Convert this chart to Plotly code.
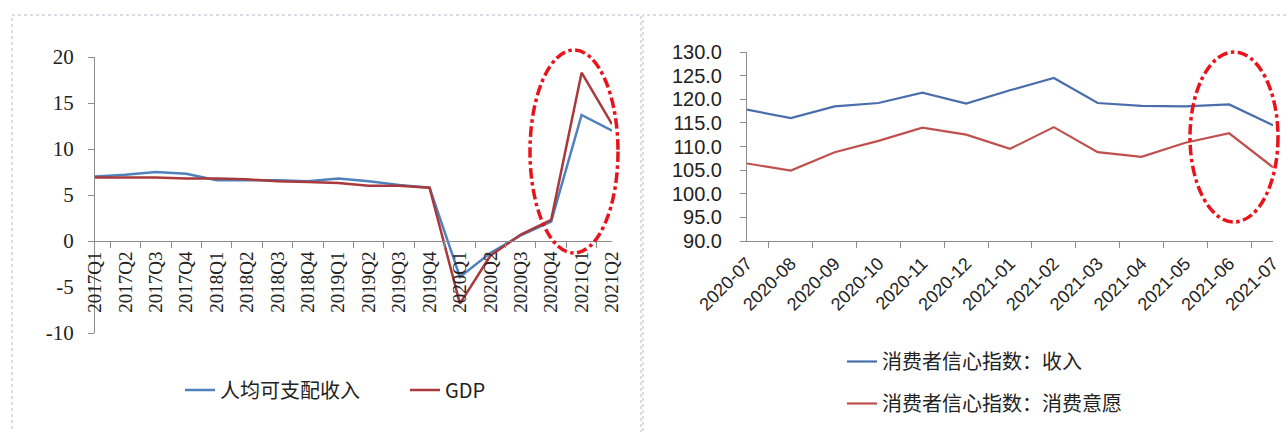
import plotly.graph_objects as go

quarters = ["2017Q1", "2017Q2", "2017Q3", "2017Q4", "2018Q1", "2018Q2", "2018Q3", "2018Q4",
            "2019Q1", "2019Q2", "2019Q3", "2019Q4", "2020Q1", "2020Q2", "2020Q3", "2020Q4",
            "2021Q1", "2021Q2"]
income_growth = [7.0, 7.2, 7.5, 7.3, 6.6, 6.6, 6.6, 6.5, 6.8, 6.5, 6.1, 5.8, -3.9, -1.3, 0.6, 2.1, 13.7, 12.0]
gdp_growth = [6.9, 6.9, 6.9, 6.8, 6.8, 6.7, 6.5, 6.4, 6.3, 6.0, 6.0, 5.8, -6.8, -1.6, 0.7, 2.3, 18.3, 12.7]
left_ticks = [-10, -5, 0, 5, 10, 15, 20]
left_tick_labels = ["-10", "-5", "0", "5", "10", "15", "20"]

months = ["2020-07", "2020-08", "2020-09", "2020-10", "2020-11", "2020-12", "2021-01",
          "2021-02", "2021-03", "2021-04", "2021-05", "2021-06", "2021-07"]
conf_income = [117.8, 116.0, 118.5, 119.2, 121.4, 119.1, 121.9, 124.5, 119.2, 118.6, 118.5, 118.9, 114.5]
conf_spend = [106.4, 104.9, 108.8, 111.2, 114.0, 112.5, 109.5, 114.1, 108.8, 107.8, 110.8, 112.8, 105.6]

W, H = 1288, 432
def px(x):
    return x / W
def py(y):
    return (H - y) / H

serif = "Liberation Serif, Times New Roman, serif"
sans = "Liberation Sans Narrow, Liberation Sans, Arial, sans-serif"
cjk = "Noto Sans CJK SC, Liberation Serif, serif"

fig = go.Figure()
fig.add_trace(go.Scatter(x=quarters, y=income_growth, mode="lines", name="人均可支配收入",
                         line=dict(color="#4f81bd", width=2.5), xaxis="x", yaxis="y", legend="legend"))
fig.add_trace(go.Scatter(x=quarters, y=gdp_growth, mode="lines", name="GDP",
                         line=dict(color="#a8393c", width=2.5), xaxis="x", yaxis="y", legend="legend"))
fig.add_trace(go.Scatter(x=months, y=conf_income, mode="lines", name="消费者信心指数：收入",
                         line=dict(color="#4a6eab", width=2.2), xaxis="x2", yaxis="y2",
                         legend="legend2", legendgroup="a"))
fig.add_trace(go.Scatter(x=months, y=conf_spend, mode="lines", name="消费者信心指数：消费意愿",
                         line=dict(color="#c0504d", width=2.2), xaxis="x2", yaxis="y2",
                         legend="legend2", legendgroup="b"))

axcol = "#8c8c8c"
fig.update_layout(
    width=W, height=H,
    margin=dict(l=0, r=0, t=0, b=0, autoexpand=False),
    paper_bgcolor="white", plot_bgcolor="white",
    xaxis=dict(domain=[px(95), px(612)], anchor="free", position=py(241), type="category",
               showline=True, linecolor=axcol, linewidth=1, ticks="outside", tickson="boundaries",
               ticklen=6, tickcolor=axcol, tickangle=-90, showgrid=False, zeroline=False,
               automargin=False, ticklabelstandoff=2,
               tickfont=dict(family=serif, size=19, color="#222")),
    yaxis=dict(domain=[py(333), py(57)], range=[-10, 20], tickvals=left_ticks, ticktext=left_tick_labels,
               showline=True, linecolor=axcol,
               ticks="outside", ticklen=6, tickcolor=axcol, showgrid=False, zeroline=False,
               automargin=False, ticklabelstandoff=10,
               tickfont=dict(family=serif, size=21, color="#222")),
    xaxis2=dict(domain=[px(747), px(1273)], anchor="y2", type="category",
                showline=True, linecolor=axcol, linewidth=1, ticks="outside", tickson="boundaries",
                ticklen=6, tickcolor=axcol, tickangle=-45, showgrid=False, zeroline=False,
                automargin=False, ticklabelstandoff=4,
                tickfont=dict(family=sans, size=18, color="#222")),
    yaxis2=dict(domain=[py(241), py(52)], range=[90, 130], dtick=5, tickformat=".1f", showline=True,
                linecolor=axcol, ticks="outside", ticklen=6, tickcolor=axcol, showgrid=False,
                zeroline=False, anchor="x2", automargin=False, ticklabelstandoff=14,
                tickfont=dict(family=sans, size=20, color="#222")),
    legend=dict(orientation="h", x=px(180), y=py(390), xanchor="left", yanchor="middle",
                entrywidth=180, entrywidthmode="pixels", bgcolor="rgba(0,0,0,0)",
                font=dict(family=cjk, size=20, color="#222")),
    legend2=dict(orientation="v", x=px(842), y=py(342), xanchor="left", yanchor="top",
                 traceorder="grouped", tracegroupgap=13, bgcolor="rgba(0,0,0,0)",
                 font=dict(family=cjk, size=20, color="#222")),
    showlegend=True,
)

border = dict(color="#b4bccb", width=1, dash="dot")
fig.add_shape(type="rect", xref="paper", yref="paper", x0=px(12), x1=px(641), y0=py(440), y1=py(15),
              line=border, layer="below")
fig.add_shape(type="rect", xref="paper", yref="paper", x0=px(643), x1=px(1295), y0=py(440), y1=py(15),
              line=border, layer="below")

ell = dict(color="#e8141c", width=3.5, dash="dashdot")
fig.add_shape(type="circle", xref="paper", yref="paper", x0=px(530), x1=px(618), y0=py(253), y1=py(50),
              line=ell)
fig.add_shape(type="circle", xref="paper", yref="paper", x0=px(1190), x1=px(1278), y0=py(222), y1=py(52),
              line=ell)

fig.write_html("out.html", config={"displayModeBar": False},
               post_script="document.body.style.margin='0';document.body.style.overflow='hidden';")
